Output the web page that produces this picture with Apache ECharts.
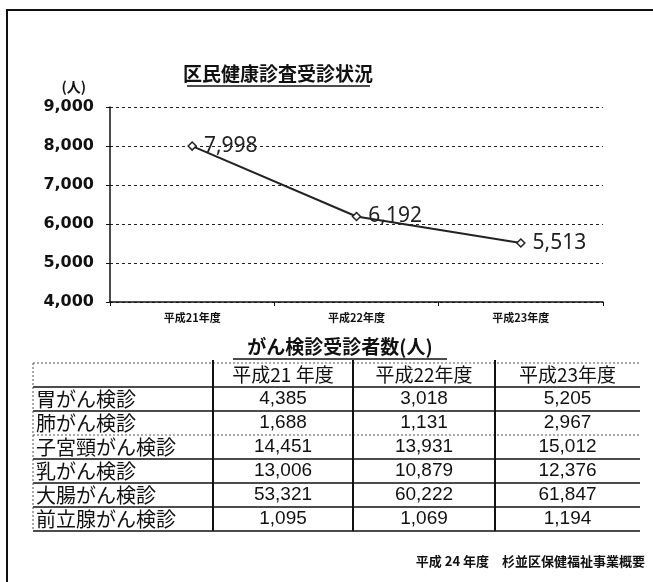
<!DOCTYPE html>
<html>
<head>
<meta charset="utf-8">
<script src="https://cdn.jsdelivr.net/npm/echarts@6/dist/echarts.min.js"></script>
<style>
    html, body {margin: 0; padding: 0; background: #fff;}
    #myBigChart {width: 653px; height: 582px;}
</style>
</head>
<body>
<div id="myBigChart"></div>
<script>
'use strict'

// 区民健康診査
var years = ['平成21年度', '平成22年度', '平成23年度'];
var kenshin = [7998, 6192, 5513];
var yTicks = [4000, 5000, 6000, 7000, 8000, 9000];

// がん検診受診者数
var tableHead = ['平成21 年度', '平成22年度', '平成23年度'];
var ganNames = ['胃がん検診', '肺がん検診', '子宮頸がん検診', '乳がん検診', '大腸がん検診', '前立腺がん検診'];
var gan21 = [4385, 1688, 14451, 13006, 53321, 1095];
var gan22 = [3018, 1131, 13931, 10879, 60222, 1069];
var gan23 = [5205, 2967, 15012, 12376, 61847, 1194];

var jpFont = '"Noto Sans CJK JP", sans-serif';

function fmt(v) {
    return String(v).replace(/\B(?=(\d{3})+(?!\d))/g, ',');
}

// 表の位置
var tbL = 33, tbTop = 363, headH = 24, rowH = 24;
var colX = [33, 213, 353, 495, 640];

function tableGraphics() {
    var g = [];
    var rows = ganNames.length;
    var tbBottom = tbTop + headH + rows * rowH;
    // 見出し
    for (let c = 0; c < tableHead.length; c++) {
        g.push({
            type: 'text',
            x: (colX[c + 1] + colX[c + 2]) / 2, y: tbTop + headH / 2,
            style: {text: tableHead[c], font: '19px ' + jpFont, fill: '#111', align: 'center', verticalAlign: 'middle'}
        });
    }
    var cols = [gan21, gan22, gan23];
    for (let r = 0; r < rows; r++) {
        var cy = tbTop + headH + r * rowH + rowH / 2;
        g.push({
            type: 'text', x: tbL + 3, y: cy,
            style: {text: ganNames[r], font: '20px ' + jpFont, fill: '#111', align: 'left', verticalAlign: 'middle'}
        });
        for (let c = 0; c < cols.length; c++) {
            g.push({
                type: 'text', x: (colX[c + 1] + colX[c + 2]) / 2, y: cy,
                style: {text: fmt(cols[c][r]), font: '19px "Liberation Sans", sans-serif', fill: '#111', align: 'center', verticalAlign: 'middle'}
            });
        }
    }
    // 横線
    for (let r = 0; r <= rows + 1; r++) {
        var ly = r === 0 ? tbTop : tbTop + headH + (r - 1) * rowH;
        var dotted = (r === 0 || r === 3);
        g.push({
            type: 'line',
            shape: {x1: tbL, y1: ly, x2: colX[4], y2: ly},
            style: {stroke: dotted ? '#555' : '#111', lineWidth: dotted ? 1 : 1.6, lineDash: dotted ? [2, 2] : null}
        });
    }
    // 縦線
    g.push({
        type: 'line', shape: {x1: tbL, y1: tbTop, x2: tbL, y2: tbBottom},
        style: {stroke: '#555', lineWidth: 1, lineDash: [2, 2]}
    });
    for (let c = 1; c <= 3; c++) {
        g.push({
            type: 'line', shape: {x1: colX[c], y1: tbTop - 3, x2: colX[c], y2: tbBottom},
            style: {stroke: '#111', lineWidth: 2}
        });
    }
    return g;
}

var myChart = echarts.init(document.getElementById('myBigChart'), null, {renderer: 'canvas'});

var graphics = [
    // 外枠
    {type: 'rect', shape: {x: 7, y: 10, width: 700, height: 620}, style: {fill: 'none', stroke: '#111', lineWidth: 2}},
    {
        type: 'text', x: 278, y: 74,
        style: {text: '区民健康診査受診状況', font: 'bold 19px ' + jpFont, fill: '#111', align: 'center', verticalAlign: 'middle'}
    },
    {type: 'line', shape: {x1: 187, y1: 86, x2: 370, y2: 86}, style: {stroke: '#111', lineWidth: 1.5}},
    {
        type: 'text', x: 340, y: 347,
        style: {text: 'がん検診受診者数(人)', font: 'bold 19px ' + jpFont, fill: '#111', align: 'center', verticalAlign: 'middle'}
    },
    {type: 'line', shape: {x1: 233, y1: 359, x2: 447, y2: 359}, style: {stroke: '#111', lineWidth: 1.5}},
    {
        type: 'text', x: 645, y: 561,
        style: {text: '平成 24 年度　杉並区保健福祉事業概要', font: 'bold 13px ' + jpFont, fill: '#111', align: 'right', verticalAlign: 'middle'}
    }
].concat(tableGraphics());

var option = {
    animation: false,
    grid: {left: 110, right: 50, top: 107, bottom: 280},
    xAxis: {
        type: 'category',
        data: years,
        boundaryGap: true,
        axisLine: {lineStyle: {color: '#111', width: 1.5}},
        axisTick: {show: true, length: 4, lineStyle: {color: '#111'}},
        axisLabel: {color: '#111', fontSize: 11, fontWeight: 'bold', fontFamily: jpFont, margin: 10}
    },
    yAxis: {
        type: 'value',
        min: yTicks[0],
        max: yTicks[yTicks.length - 1],
        interval: 1000,
        name: '(人)',
        nameLocation: 'end',
        nameGap: 13,
        nameTextStyle: {color: '#111', fontSize: 14, fontWeight: 'bold', fontFamily: jpFont, align: 'right', padding: [0, 24, 0, 0]},
        axisLine: {show: true, lineStyle: {color: '#111', width: 1.5}},
        axisTick: {show: true, length: 4, lineStyle: {color: '#111'}},
        axisLabel: {
            color: '#111', fontSize: 16, fontWeight: 'bold', fontFamily: '"DejaVu Sans"', margin: 16,
            formatter: function (v) { return fmt(v); }
        },
        splitLine: {show: true, lineStyle: {color: '#222', type: [3, 3], width: 1}}
    },
    series: [{
        type: 'line',
        data: kenshin,
        symbol: 'diamond',
        symbolSize: 8,
        itemStyle: {color: '#fff', borderColor: '#222', borderWidth: 1.5},
        lineStyle: {color: '#222', width: 2},
        label: {
            show: true, position: 'right', distance: 7,
            color: '#222', fontSize: 21, fontFamily: '"Noto Sans"',
            formatter: function (p) { return fmt(p.value); }
        }
    }],
    graphic: graphics
};
myChart.setOption(option);
</script>
</body>
</html>
